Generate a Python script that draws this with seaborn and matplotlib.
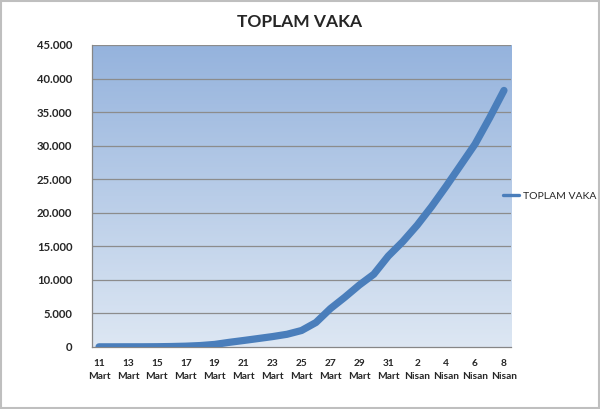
import numpy as np
import pandas as pd
import seaborn as sns
import matplotlib.pyplot as plt
from matplotlib.colors import LinearSegmentedColormap
from matplotlib.patches import Rectangle

days = ["11\nMart", "12\nMart", "13\nMart", "14\nMart", "15\nMart", "16\nMart", "17\nMart",
        "18\nMart", "19\nMart", "20\nMart", "21\nMart", "22\nMart", "23\nMart", "24\nMart",
        "25\nMart", "26\nMart", "27\nMart", "28\nMart", "29\nMart", "30\nMart", "31\nMart",
        "1\nNisan", "2\nNisan", "3\nNisan", "4\nNisan", "5\nNisan", "6\nNisan", "7\nNisan",
        "8\nNisan"]
toplam_vaka = [1, 1, 5, 6, 18, 47, 98, 191, 359, 670, 947, 1236, 1529, 1872, 2433, 3629,
               5698, 7402, 9217, 10827, 13531, 15679, 18135, 20921, 23934, 27069, 30217,
               34109, 38226]
y_ticks = [0, 5000, 10000, 15000, 20000, 25000, 30000, 35000, 40000, 45000]

df = pd.DataFrame({"gun": np.arange(len(days)), "TOPLAM VAKA": toplam_vaka})

sns.set_style("white")
plt.rcParams["font.family"] = ["Lato", "DejaVu Sans"]

fig = plt.figure(figsize=(6, 4.09), dpi=100)
ax = fig.add_axes([0.153, 0.152, 0.699, 0.738])

# gradient background like the Excel chart
cmap = LinearSegmentedColormap.from_list("bg", ["#dde7f3", "#95b3dd"])
grad = np.linspace(0, 1, 256).reshape(-1, 1)
ax.imshow(grad, aspect="auto", cmap=cmap, origin="lower",
          extent=[-0.5, len(days) - 0.5, 0, 45000], zorder=0)

for t in y_ticks[1:]:
    ax.axhline(t, color="#8c8c8c", lw=0.9, zorder=1)

sns.lineplot(data=df, x="gun", y="TOPLAM VAKA", ax=ax, color="#4a7ebb", lw=5.2,
             label="TOPLAM VAKA", zorder=3, solid_capstyle="round", solid_joinstyle="round")

ax.set_xlim(-0.5, len(days) - 0.5)
ax.set_ylim(0, 45000)
ax.set_yticks(y_ticks)
ax.set_yticklabels([f"{t:,}".replace(",", ".") for t in y_ticks],
                   fontsize=8.2, fontweight="bold")
ax.set_xticks(np.arange(0, len(days), 2))
ax.set_xticklabels(days[::2], fontsize=7.3, fontweight="bold", linespacing=1.55)
ax.tick_params(axis="both", length=4, color="#868686", direction="out")
ax.tick_params(axis="x", pad=5)
ax.tick_params(axis="y", pad=10)
ax.set_xlabel("")
ax.set_ylabel("")
for side in ["top", "right"]:
    ax.spines[side].set_visible(False)
for side in ["left", "bottom"]:
    ax.spines[side].set_color("#868686")
    ax.spines[side].set_linewidth(0.9)

ax.legend(loc="center left", bbox_to_anchor=(0.98, 0.5), frameon=False, fontsize=7.5,
          handlelength=1.6, handletextpad=0.3, borderpad=0, borderaxespad=0)
for line in ax.get_legend().get_lines():
    line.set_linewidth(2.4)

fig.suptitle("TOPLAM VAKA", x=0.5, y=0.965, fontsize=12.5, fontweight="bold")

fig.patches.append(Rectangle((0.002, 0.003), 0.996, 0.994, transform=fig.transFigure,
                             fill=False, edgecolor="#bfbfbf", lw=1.5))

fig.savefig("out.png", dpi=100)
